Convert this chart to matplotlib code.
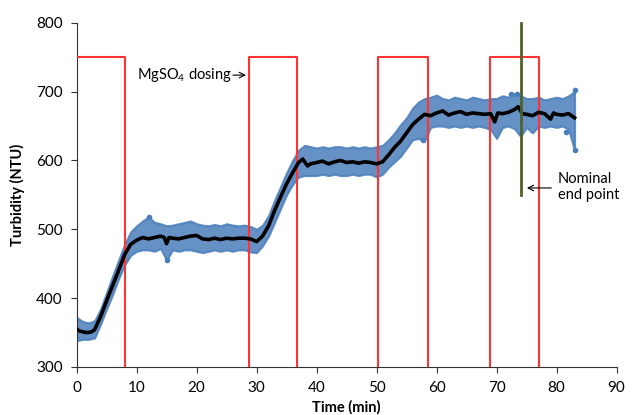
import numpy as np
import matplotlib
matplotlib.use("Agg")
import matplotlib.pyplot as plt

plt.rcParams["font.family"] = ["Lato", "DejaVu Sans"]
plt.rcParams["mathtext.fontset"] = "custom"
plt.rcParams["mathtext.rm"] = "Lato"

# smoothed turbidity trace (min, NTU)
trace_t = [0, 0.5, 1, 1.5, 2, 2.5, 3, 4, 5, 6, 7, 8, 9, 10, 11, 12, 13, 14,
           14.6, 15, 15.4, 16, 17, 18, 19, 20, 21, 22, 23, 24, 25, 26, 27,
           28, 29, 30, 31, 32, 33, 34, 35, 36, 37, 37.7, 38.5, 39, 40, 41,
           42, 43, 44, 45, 46, 47, 48, 49, 50, 51, 52, 53, 54, 55, 56, 57,
           58, 59, 60, 61, 62, 63, 64, 65, 66, 67, 68, 69, 69.7, 70.2, 71,
           72, 73, 73.6, 74.3, 75, 76, 77, 78, 79, 79.5, 80, 81, 82, 83]
trace_v = [355, 352, 351, 350, 350, 351, 354, 373, 396, 418, 440, 463, 478,
           484, 488, 486, 488, 490, 488, 479, 488, 487, 486, 488, 490, 491,
           486, 485, 487, 485, 487, 486, 487, 487, 486, 482, 490, 505, 527,
           547, 566, 582, 597, 602, 592, 595, 597, 599, 595, 598, 600, 597,
           598, 596, 598, 597, 595, 598, 608, 619, 628, 640, 652, 660, 667,
           665, 669, 672, 666, 669, 671, 667, 669, 668, 667, 668, 656, 669,
           668, 670, 674, 678, 668, 667, 665, 670, 668, 660, 669, 667, 666,
           668, 662]

# spread of the raw readings (upper / lower edge of the blue cloud)
band_t = list(range(0, 84))
band_hi = [372, 366, 364, 367, 384, 408, 432, 455, 478, 496, 505, 512, 518,
           510, 508, 505, 506, 508, 510, 512, 508, 506, 505, 507, 505, 508,
           506, 505, 506, 504, 500, 506, 520, 542, 562, 582, 600, 615, 622,
           620, 618, 620, 618, 620, 620, 618, 620, 618, 620, 618, 620, 622,
           630, 640, 652, 662, 676, 685, 690, 692, 695, 690, 688, 692, 690,
           688, 692, 690, 688, 690, 690, 694, 692, 697, 694, 690, 690, 692,
           688, 690, 692, 690, 694, 700]
band_lo = [338, 340, 340, 342, 362, 384, 405, 428, 448, 462, 468, 470, 470,
           468, 472, 455, 470, 468, 470, 470, 468, 466, 468, 470, 468, 470,
           468, 470, 470, 467, 466, 476, 490, 510, 530, 550, 565, 576, 578,
           578, 578, 580, 578, 580, 578, 578, 580, 578, 580, 580, 576, 580,
           590, 598, 606, 618, 630, 632, 628, 648, 650, 650, 648, 650, 648,
           650, 648, 650, 648, 645, 632, 648, 650, 646, 635, 648, 640, 650,
           648, 650, 648, 650, 645, 615]

# stray readings outside the main cloud
stray_t = [12.1, 15.0, 57.8, 72.4, 73.4, 81.6, 83.0, 83.0]
stray_v = [518, 455, 629, 697, 697, 642, 703, 615]

# MgSO4 dosing signal
dose_t = [0, 8.1, 28.7, 36.8, 50.3, 58.6, 68.9, 77.05, 83]
dose_v = [750, 0, 750, 0, 750, 0, 750, 0, 0]

end_t = 74.0

fig = plt.figure(figsize=(6.33, 4.15), dpi=100)
ax = fig.add_axes([0.121, 0.116, 0.853, 0.829])

blue = "#4a7ebb"
ax.fill_between(band_t, band_lo, band_hi, color=blue, alpha=0.85, lw=1.5,
                edgecolor=blue, zorder=2)
ax.scatter(stray_t, stray_v, s=9, color=blue, zorder=2)
ax.step(dose_t, dose_v, where="post", color="#ff3333", lw=1.5, zorder=3)
ax.plot(trace_t, trace_v, color="black", lw=2.6, zorder=4)
ax.plot([end_t, end_t], [550, 800], color="#4f6228", lw=2, zorder=5,
        clip_on=False)

ax.annotate("", xy=(28.7, 724), xytext=(25.6, 724),
            arrowprops=dict(arrowstyle="->", color="black", lw=0.8))
ax.text(10.0, 724, "MgSO$_4$ dosing", fontsize=10.5, va="center", ha="left")
ax.annotate("", xy=(74.6, 560), xytext=(79.6, 560),
            arrowprops=dict(arrowstyle="->", color="black", lw=0.8))
ax.text(80.2, 561, "Nominal\nend point", fontsize=10.5, va="center",
        ha="left", linespacing=1.2)

ax.set_xlim(0, 90)
ax.set_ylim(300, 800)
ax.set_xticks(np.arange(0, 91, 10))
ax.set_yticks(np.arange(300, 801, 100))
for side in ["top", "right"]:
    ax.spines[side].set_visible(False)
for side in ["left", "bottom"]:
    ax.spines[side].set_color("#333333")
ax.tick_params(labelsize=11, length=4, color="#333333", pad=6)
ax.set_xlabel("Time (min)", fontsize=10.5, fontweight="bold", labelpad=4)
ax.set_ylabel("Turbidity (NTU)", fontsize=10.5, fontweight="bold",
              labelpad=8)

fig.savefig("out.png", dpi=100)
